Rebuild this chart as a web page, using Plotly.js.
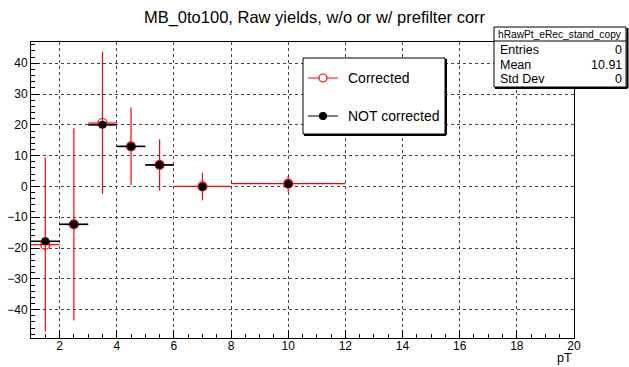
<!DOCTYPE html>
<html>
<head>
<meta charset="utf-8">
<script src="https://cdn.plot.ly/plotly-3.0.1.min.js"></script>
<style>html,body{margin:0;padding:0;background:#fff;}#chart{width:629px;height:367px;}</style>
</head>
<body>
<div id="chart"></div>
<script>
// ---- data ----
var binCenters   = [1.5, 2.5, 3.5, 4.5, 5.5, 7, 10];
var binHalfWidth = [0.5, 0.5, 0.5, 0.5, 0.5, 1, 2];
var corrected    = [-18.9, -12.3, 20.6, 13.0, 7.0, 0.0, 0.9];
var correctedErr = [28.2, 31.2, 23.0, 12.6, 8.3, 4.5, 2.6];
var notCorrected = [-17.8, -12.3, 20.0, 13.0, 7.0, -0.1, 0.8];
var notCorrHalfW = [0.5, 0.5, 0.5, 0.5, 0.5, 0, 0];
var statsName  = "hRawPt_eRec_stand_copy";
var statsLabels = ["Entries", "Mean", "Std Dev"];
var statsValues = ["0", "10.91", "0"];

var FONT = "Liberation Sans, Arial, Helvetica, sans-serif";
var L = 31, R = 55, T = 42, B = 29, W = 629, H = 367;
var pw = W - L - R, ph = H - T - B;
function px(x){ return (x - L) / pw; }
function py(y){ return (H - B - y) / ph; }

var traces = [
  {
    x: binCenters, y: corrected, type: 'scatter', mode: 'markers',
    marker: {symbol: 'circle-open', size: 9, color: 'red', line: {width: 1.2, color: 'red'}},
    error_y: {type: 'data', array: correctedErr, visible: true, color: 'red', thickness: 1.2, width: 0},
    error_x: {type: 'data', array: binHalfWidth, visible: true, color: 'red', thickness: 1.2, width: 0},
    showlegend: false, hoverinfo: 'skip'
  },
  {
    x: binCenters, y: notCorrected, type: 'scatter', mode: 'markers',
    marker: {symbol: 'circle', size: 8, color: 'black'},
    error_x: {type: 'data', array: notCorrHalfW, visible: true, color: 'black', thickness: 1.6, width: 0},
    showlegend: false, hoverinfo: 'skip'
  }
];

var shapes = [];
var annotations = [];

// legend box
shapes.push({type:'rect', xref:'paper', yref:'paper', x0:px(303), x1:px(445), y0:py(134), y1:py(58), line:{color:'black', width:1}, fillcolor:'white', layer:'above'});
shapes.push({type:'line', xref:'paper', yref:'paper', x0:px(304), x1:px(446), y0:py(135), y1:py(135), line:{color:'black', width:2}, layer:'above'});
shapes.push({type:'line', xref:'paper', yref:'paper', x0:px(446), x1:px(446), y0:py(59), y1:py(135), line:{color:'black', width:2}, layer:'above'});
var legRows = [
  {y: 78, text: 'Corrected', color: 'red', open: true},
  {y: 116, text: 'NOT corrected', color: 'black', open: false}
];
legRows.forEach(function(r){
  shapes.push({type:'line', xref:'paper', yref:'paper', x0:px(308), x1:px(338), y0:py(r.y), y1:py(r.y), line:{color:r.color, width:1}, layer:'above'});
  var rad = r.open ? 4 : 3.5;
  shapes.push({type:'circle', xref:'paper', yref:'paper', x0:px(323-rad), x1:px(323+rad), y0:py(r.y+rad), y1:py(r.y-rad),
    line:{color:r.color, width:1.2}, fillcolor: r.open ? 'white' : 'black', layer:'above'});
  annotations.push({xref:'paper', yref:'paper', x:px(346), y:py(r.y), xanchor:'left', yanchor:'middle', text:r.text, showarrow:false, font:{family:FONT, size:14, color:'black'}});
});

// stats box
shapes.push({type:'rect', xref:'paper', yref:'paper', x0:px(494), x1:px(626), y0:py(87), y1:py(27), line:{color:'black', width:1}, fillcolor:'white', layer:'above'});
shapes.push({type:'line', xref:'paper', yref:'paper', x0:px(494), x1:px(626), y0:py(41), y1:py(41), line:{color:'black', width:1}, layer:'above'});
shapes.push({type:'line', xref:'paper', yref:'paper', x0:px(495), x1:px(627.5), y0:py(88), y1:py(88), line:{color:'black', width:2}, layer:'above'});
shapes.push({type:'line', xref:'paper', yref:'paper', x0:px(627.5), x1:px(627.5), y0:py(28), y1:py(88), line:{color:'black', width:2}, layer:'above'});
annotations.push({xref:'paper', yref:'paper', x:px(560), y:py(34), xanchor:'center', yanchor:'middle', text:statsName, showarrow:false, font:{family:FONT, size:10.2, color:'black'}});
var rowY = [50, 64.5, 79];
statsLabels.forEach(function(lab, i){
  annotations.push({xref:'paper', yref:'paper', x:px(498), y:py(rowY[i]), xanchor:'left', yanchor:'middle', text:lab, showarrow:false, font:{family:FONT, size:12.5, color:'black'}});
  annotations.push({xref:'paper', yref:'paper', x:px(624), y:py(rowY[i]), xanchor:'right', yanchor:'middle', text:statsValues[i], showarrow:false, font:{family:FONT, size:12.5, color:'black'}});
});

// x axis title
annotations.push({xref:'paper', yref:'paper', x:px(574), y:py(358), xanchor:'right', yanchor:'middle', text:'pT', showarrow:false, font:{family:FONT, size:12.5, color:'black'}});

var layout = {
  width: W, height: H,
  margin: {l: L, r: R, t: T, b: B, pad: 0},
  paper_bgcolor: 'white', plot_bgcolor: 'white',
  title: {text: 'MB_0to100, Raw yields, w/o or w/ prefilter corr', x: 0.5, xref: 'container', xanchor: 'center', y: 1 - 17/H, yref: 'container', yanchor: 'middle', font: {family: FONT, size: 16.5, color: 'black'}},
  xaxis: {
    range: [1, 20], tick0: 0, dtick: 2, ticks: 'inside', ticklen: 8, tickcolor: 'black', tickwidth: 1,
    minor: {dtick: 0.5, ticks: 'inside', ticklen: 4, tickcolor: 'black', tickwidth: 1, showgrid: false},
    showline: true, linecolor: 'black', linewidth: 1, mirror: true,
    showgrid: true, gridcolor: '#444', griddash: 'dot', gridwidth: 1, ticklabelstandoff: -3,
    zeroline: false, tickfont: {family: FONT, size: 12, color: 'black'}, fixedrange: true
  },
  yaxis: {
    range: [-49.2, 46.9], tick0: 0, dtick: 10, ticks: 'inside', ticklen: 8, tickcolor: 'black', tickwidth: 1,
    minor: {dtick: 2, ticks: 'inside', ticklen: 4, tickcolor: 'black', tickwidth: 1, showgrid: false},
    showline: true, linecolor: 'black', linewidth: 1, mirror: true,
    showgrid: true, gridcolor: '#444', griddash: 'dot', gridwidth: 1,
    zeroline: false, tickfont: {family: FONT, size: 12, color: 'black'}, fixedrange: true
  },
  shapes: shapes,
  annotations: annotations,
  showlegend: false
};

Plotly.newPlot('chart', traces, layout, {displayModeBar: false, staticPlot: true});
</script>
</body>
</html>
